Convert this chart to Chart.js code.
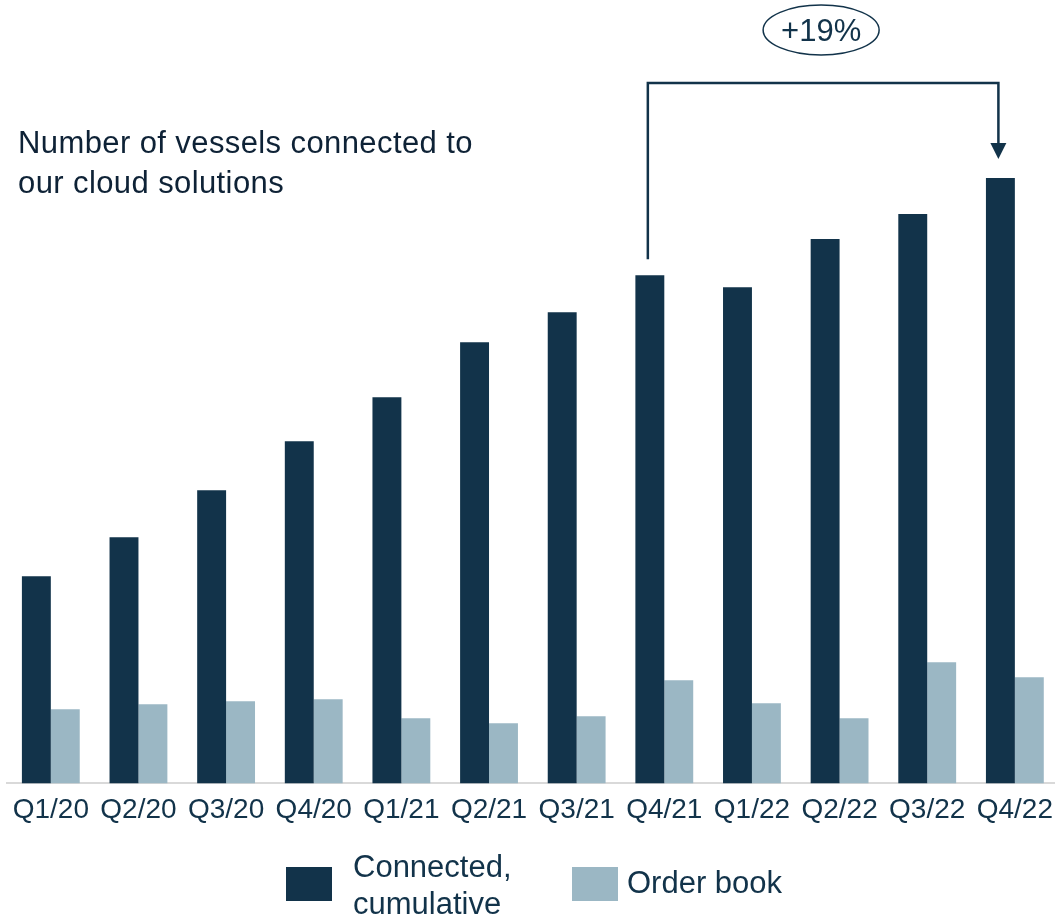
<!DOCTYPE html>
<html>
<head>
<meta charset="utf-8">
<script src="https://cdn.jsdelivr.net/npm/chart.js@4.4.1/dist/chart.umd.min.js"></script>
<style>
  html, body { margin: 0; padding: 0; background: #fff; overflow: hidden; }
  #wrap { position: relative; width: 1055px; height: 917px; overflow: hidden; font-family: "Liberation Sans", Arial, sans-serif; color: #12334a; }
  #chart { position: absolute; left: 0; top: 0; }
  .title { position: absolute; left: 18px; top: 123px; font-size: 31px; line-height: 40px; letter-spacing: 0.4px; color: #0e2236; white-space: nowrap; }
  .lg-box { position: absolute; width: 46px; height: 34px; top: 867px; }
  .lg-text { position: absolute; font-size: 31px; line-height: 37px; white-space: nowrap; }
</style>
</head>
<body>
<div id="wrap">
  <canvas id="chart" width="1063" height="917"></canvas>
  <div class="title">Number of vessels connected to<br>our cloud solutions</div>
  <div class="lg-box" style="left:286px;background:#12334a"></div>
  <div class="lg-text" style="left:353px;top:848px">Connected,<br>cumulative</div>
  <div class="lg-box" style="left:572px;background:#9bb7c4"></div>
  <div class="lg-text" style="left:627px;top:864px">Order book</div>
</div>
<script>
const labels = ["Q1/20", "Q2/20", "Q3/20", "Q4/20", "Q1/21", "Q2/21", "Q3/21", "Q4/21", "Q1/22", "Q2/22", "Q3/22", "Q4/22"];
const connected = [207, 246, 293, 342, 386, 441, 471, 508, 496, 544, 569, 605];
const orderBook = [74, 79, 82, 84, 65, 60, 67, 103, 80, 65, 121, 106];
const growthText = "+19%";

const dark = "#12334a";
const light = "#9bb7c4";

// bracket from Q4/21 to Q4/22 with the growth label on top
const bracket = {
  id: "bracket",
  afterDatasetsDraw(chart) {
    const c = chart.ctx;
    const bars = chart.getDatasetMeta(0).data;
    const a = bars[7], b = bars[11];
    const topY = 83;
    const ax = a.x - 2, bx = b.x - 2;
    c.save();
    c.strokeStyle = dark;
    c.fillStyle = dark;
    c.lineWidth = 2.5;
    c.beginPath();
    c.moveTo(ax, a.y - 16);
    c.lineTo(ax, topY);
    c.lineTo(bx, topY);
    c.lineTo(bx, b.y - 34);
    c.stroke();
    c.beginPath();
    c.moveTo(bx - 8, b.y - 35);
    c.lineTo(bx + 8, b.y - 35);
    c.lineTo(bx, b.y - 19);
    c.closePath();
    c.fill();

    const cx = (ax + bx) / 2 - 2;
    c.lineWidth = 1.5;
    c.beginPath();
    c.ellipse(cx, 30, 58, 25, 0, 0, Math.PI * 2);
    c.stroke();
    c.font = "31px 'Liberation Sans', Arial, sans-serif";
    c.textAlign = "center";
    c.textBaseline = "middle";
    c.fillText(growthText, cx, 32);
    c.restore();
  }
};

new Chart(document.getElementById("chart"), {
  type: "bar",
  data: {
    labels: labels,
    datasets: [
      { label: "Connected, cumulative", data: connected, backgroundColor: dark },
      { label: "Order book", data: orderBook, backgroundColor: light }
    ]
  },
  options: {
    responsive: false,
    animation: false,
    layout: { padding: { left: 7, right: -7, top: 0, bottom: 80 } },
    datasets: { bar: { categoryPercentage: 0.66, barPercentage: 1 } },
    scales: {
      x: {
        grid: { display: false, drawTicks: false },
        border: { display: true, color: "#d9d9d9", width: 2 },
        ticks: {
          color: dark,
          padding: 10,
          maxRotation: 0,
          autoSkip: false,
          font: { family: "'Liberation Sans', Arial, sans-serif", size: 28 }
        }
      },
      y: { display: false, min: 0, max: 783 }
    },
    plugins: {
      legend: { display: false },
      tooltip: { enabled: false }
    }
  },
  plugins: [bracket]
});
</script>
</body>
</html>
